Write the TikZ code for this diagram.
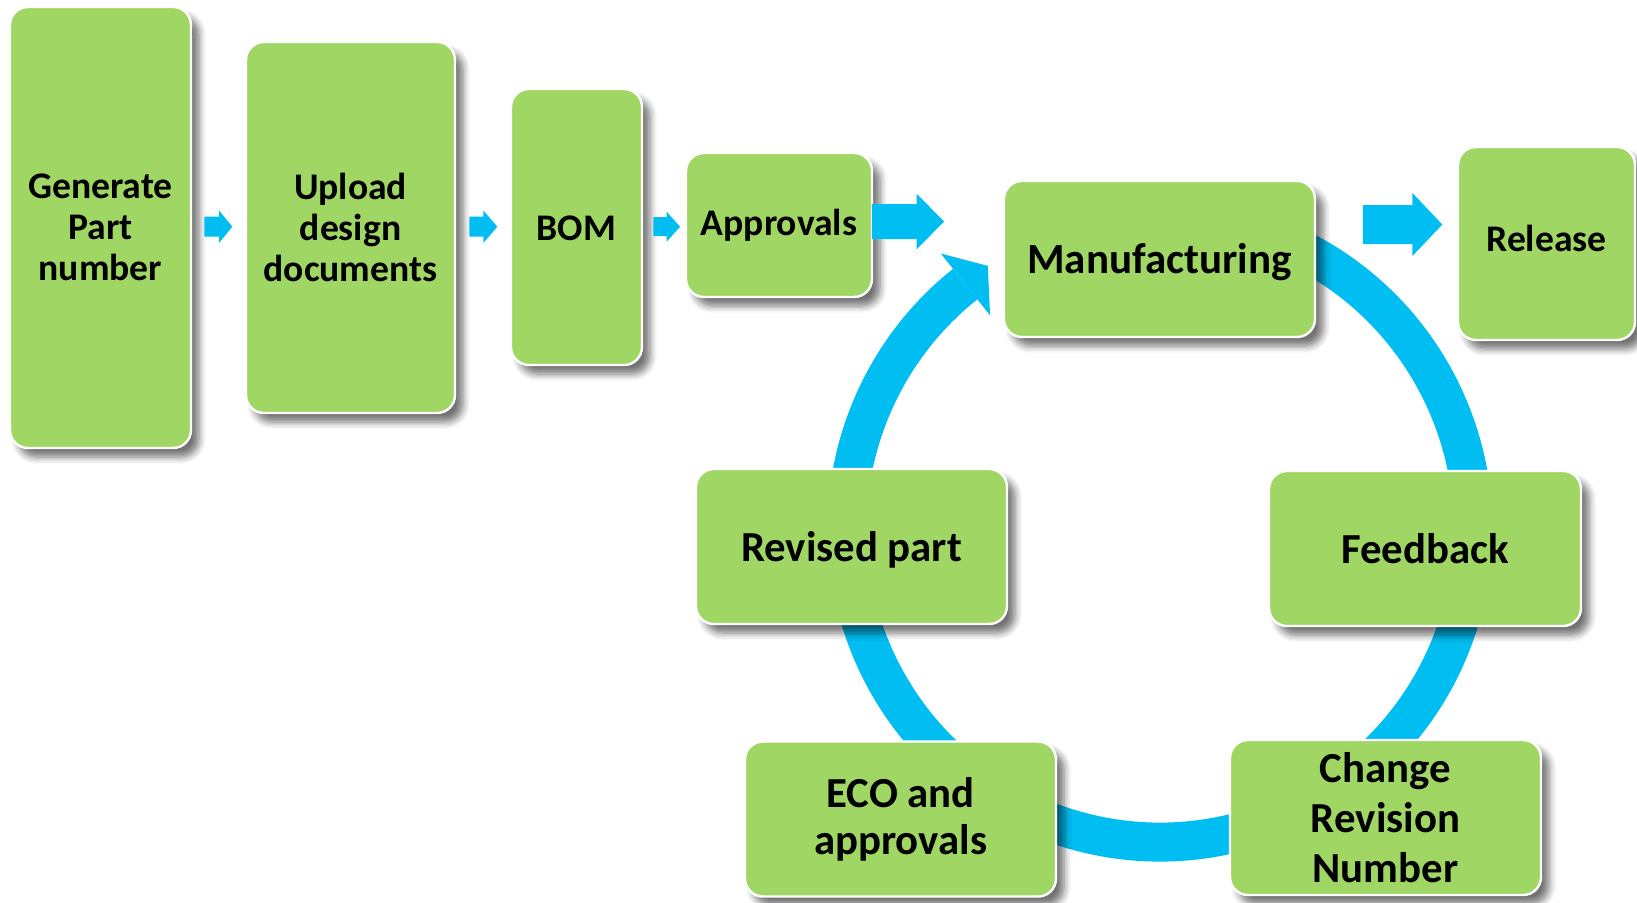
\documentclass[tikz,border=0pt]{standalone}
\usepackage{fontspec}
\setmainfont{Carlito}
\usetikzlibrary{calc,shadows.blur}
\definecolor{boxgreen}{RGB}{160,214,100}
\definecolor{ringblue}{RGB}{0,190,242}
\newcommand\myblockarrow[6]{%
  \fill[ringblue] (#1,#4-#5) -- (#2,#4-#5) -- (#2,#4-#6) -- (#3,#4) -- (#2,#4+#6) -- (#2,#4+#5) -- (#1,#4+#5) -- cycle;}
\begin{document}
\begin{tikzpicture}[x=0.5pt,y=-0.5pt,
  stepbox/.style={rectangle, rounded corners=9pt, fill=boxgreen, draw=white,
    line width=1.2pt, align=center, text=black, inner sep=0pt,
    blur shadow={shadow xshift=4pt, shadow yshift=-4.5pt, shadow blur steps=6,
      shadow blur radius=3.5pt, shadow opacity=55}},
  lefttext/.style={font=\bfseries\fontsize{18.8}{20.5}\selectfont},
  cyctext/.style={font=\bfseries\fontsize{21.4}{23.5}\selectfont},
  ring/.style={draw=ringblue, line width=19.5pt}]
\useasboundingbox (0,0) rectangle (1637,902);
\coordinate (c) at (1160,529);
% ring
\draw[ring] ($(c)+(-70:313)$) arc[start angle=-70, end angle=231.5, radius=313];
\fill[ringblue] ($(c)+(231.5:352)$) -- ($(c)+(236.8:314.5)$) -- ($(c)+(231.5:273)$) -- cycle;
% boxes
\node[stepbox, lefttext, minimum width=90.5pt, minimum height=220.5pt] (gen) at (100.5,227.5) {Generate\\Part\\number};
\node[stepbox, lefttext, minimum width=104.5pt, minimum height=185.5pt] (upl) at (350.5,227.5) {Upload\\design\\documents};
\node[stepbox, lefttext, minimum width=65.5pt, minimum height=138pt, text height=13.3pt, text depth=0pt] (bom) at (576.5,227) {BOM};
\node[stepbox, lefttext, minimum width=93pt, minimum height=72pt] (appr) at (779,225) {Approvals};
\node[stepbox, font=\bfseries\fontsize{21.5}{24}\selectfont, minimum width=155.5pt, minimum height=78pt, text height=18.3pt, text depth=4.3pt] (manu) at (1159.5,259) {Manufacturing};
\node[stepbox, lefttext, minimum width=88.5pt, minimum height=96.5pt, text depth=5pt] (rel) at (1546.5,243.5) {Release};
\node[stepbox, cyctext, minimum width=155.5pt, minimum height=77.5pt, text height=19pt, text depth=4.3pt] (rev) at (851.5,546.5) {Revised part};
\node[stepbox, cyctext, minimum width=156pt, minimum height=77.5pt] (fb) at (1425,548.5) {Feedback};
\node[stepbox, cyctext, minimum width=155.5pt, minimum height=77.5pt] (eco) at (900.5,819) {ECO and\\approvals};
\node[stepbox, font=\bfseries\fontsize{21.4}{25}\selectfont, minimum width=155.5pt, minimum height=77.5pt] (chg) at (1385.5,817.5) {Change\\Revision\\Number};
% block arrows
\myblockarrow{204.3}{219}{232.3}{226.7}{10}{16.3}
\myblockarrow{469.3}{483.3}{497.3}{226.7}{10}{16.3}
\myblockarrow{653.3}{666.7}{680}{226.7}{9.5}{15}
\myblockarrow{872}{916.5}{944}{221.5}{17.5}{28}
\myblockarrow{1362.8}{1412.4}{1442.3}{224.5}{19.5}{31.5}
\end{tikzpicture}
\end{document}
